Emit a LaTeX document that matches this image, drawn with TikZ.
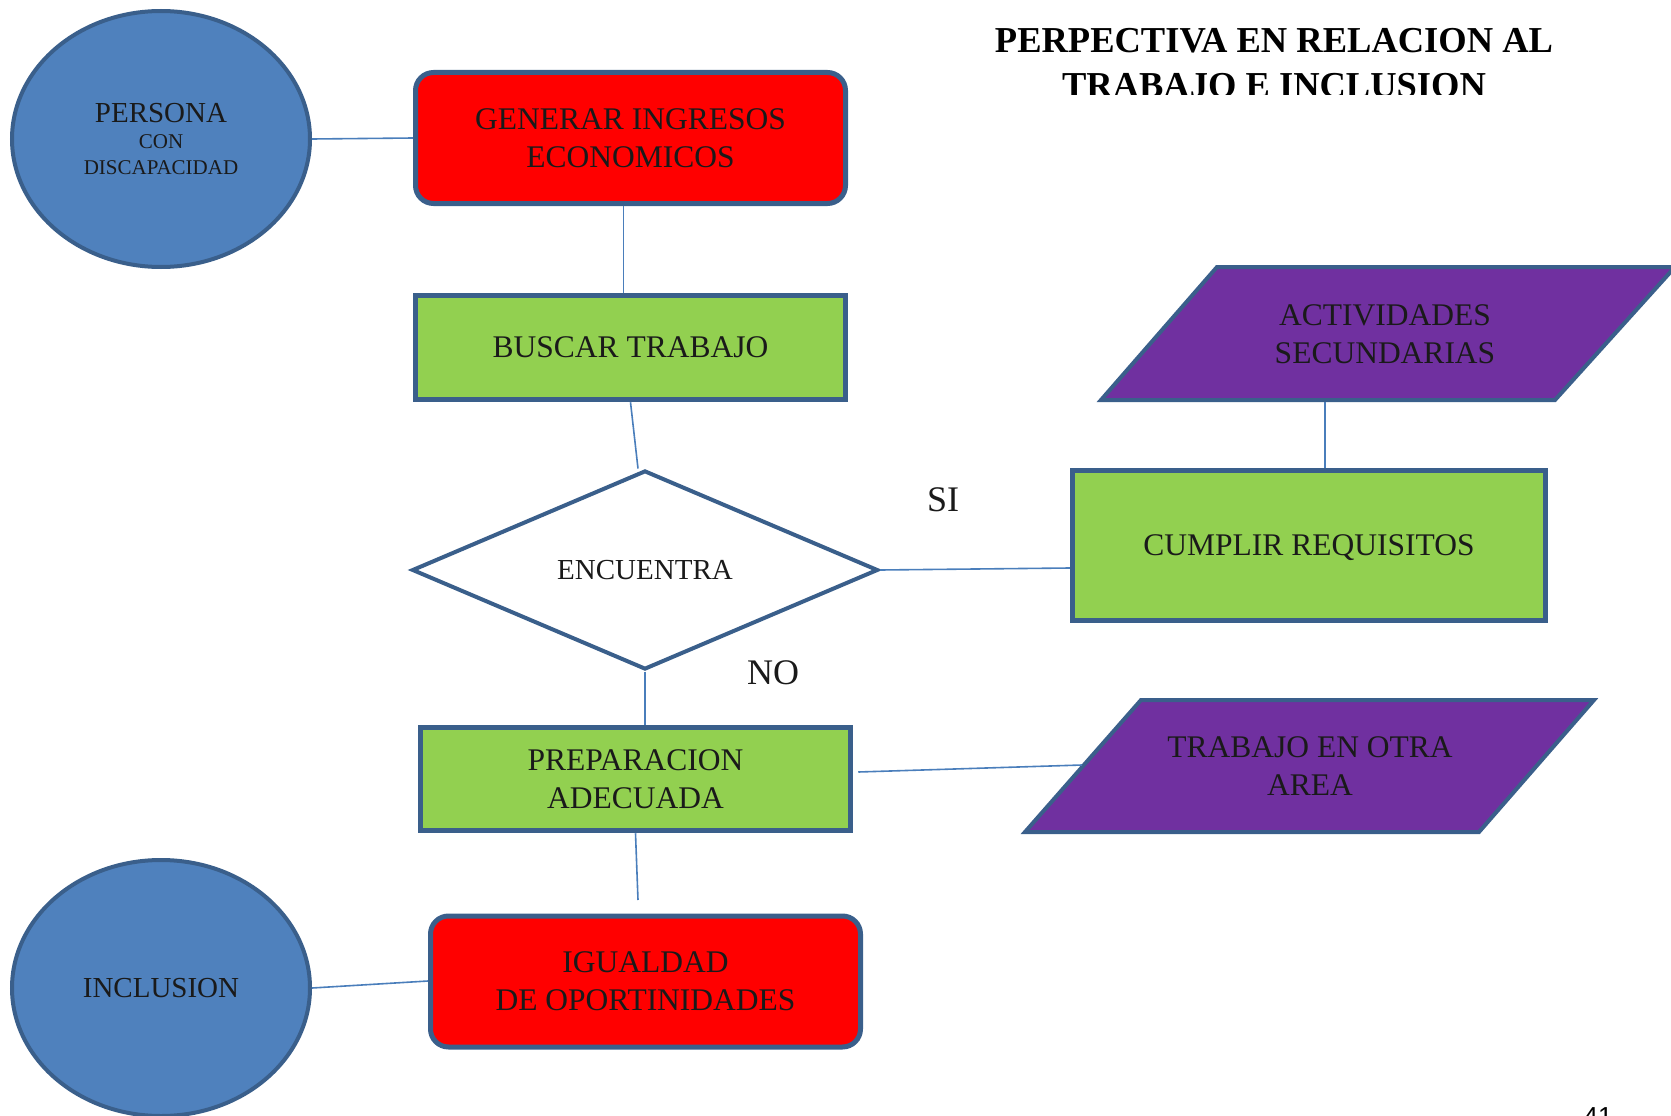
\documentclass[tikz,border=0pt]{standalone}
\usepackage{fontspec}
\setmainfont{Liberation Serif}
\newfontfamily\pagefont{Liberation Sans}
\usetikzlibrary{shapes.geometric}
\definecolor{bdr}{HTML}{3A5F8B}
\definecolor{lnk}{HTML}{4A7EBB}
\definecolor{ellfill}{HTML}{4F81BD}
\definecolor{redf}{HTML}{FF0000}
\definecolor{greenf}{HTML}{92D050}
\definecolor{purplef}{HTML}{7030A0}
\definecolor{txt}{HTML}{1A1A1A}
\begin{document}
\begin{tikzpicture}[x=1pt,y=-1pt,
  ell/.style={ellipse, draw=bdr, line width=4pt, fill=ellfill, minimum width=298pt,
    minimum height=256pt, inner sep=0pt, text=txt, align=center},
  redbox/.style={rectangle, rounded corners=18pt, draw=bdr, line width=5pt, fill=redf,
    minimum width=430pt, minimum height=131pt, inner sep=0pt, text=txt, align=center,
    text depth=0pt, font=\fontsize{31.5}{38}\selectfont},
  greenbox/.style={rectangle, draw=bdr, line width=5pt, fill=greenf, inner sep=0pt,
    text=txt, align=center, text depth=0pt, font=\fontsize{31.5}{38}\selectfont},
  para/.style={draw=bdr, line width=4pt, fill=purplef, line join=miter},
  ptext/.style={text=txt, align=center, text depth=0pt, font=\fontsize{31.5}{38}\selectfont},
  decision/.style={diamond, draw=bdr, line width=4pt, fill=white, minimum width=466pt,
    minimum height=199pt, inner sep=0pt, text=txt, text depth=0pt, font=\fontsize{29}{34}\selectfont},
  link/.style={draw=lnk, line width=1.6pt},
  lbl/.style={text=txt, font=\fontsize{36}{40}\selectfont, inner sep=0pt},
  ttl/.style={font=\fontsize{36.5}{44}\selectfont\bfseries, align=center, inner sep=0pt, anchor=base}
]
\useasboundingbox (0,0) rectangle (1671,1116);

% title (clipped at bottom)
\begin{scope}
  \clip (900,0) rectangle (1671,94);
  \node[ttl] (title) at (1274,97) {PERPECTIVA EN RELACION AL\\TRABAJO E INCLUSION};
\end{scope}

% page number (clipped)
\begin{scope}
  \clip (1500,1080) rectangle (1671,1116);
  \node[font=\pagefont\fontsize{26}{30}\selectfont, anchor=north, inner sep=0pt] (pnum) at (1598,1107) {41};
\end{scope}

% nodes
\node[ell, font=\fontsize{21}{25.5}\selectfont] (persona) at (161,139) {{\fontsize{29}{30}\selectfont PERSONA}\\[1pt]CON\\DISCAPACIDAD};
\node[redbox] (generar) at (630.5,138) {GENERAR INGRESOS\\ECONOMICOS};
\node[greenbox, minimum width=430.5pt, minimum height=104.5pt] (buscar) at (630.5,347.5) {BUSCAR TRABAJO};
\node[decision] (enc) at (645,570) {ENCUENTRA};
\node[greenbox, minimum width=473.5pt, minimum height=150.5pt] (cump) at (1309,545.5) {CUMPLIR REQUISITOS};
\node[greenbox, minimum width=430.5pt, minimum height=103.5pt] (prep) at (635.5,779) {PREPARACION\\ADECUADA};
\node[redbox] (igual) at (645.5,981.5) {IGUALDAD\\DE OPORTINIDADES};
\node[ell, text depth=0pt, font=\fontsize{29}{30}\selectfont] (incl) at (161,988) {INCLUSION};

% parallelograms
\coordinate (a1) at (1217,267);
\coordinate (a2) at (1675,267);
\coordinate (a3) at (1555,400);
\coordinate (a4) at (1101,400);
\draw[para] (a1) -- (a2) -- (a3) -- (a4) -- cycle;
\node[ptext] (act) at (1385,334) {ACTIVIDADES\\SECUNDARIAS};
\coordinate (actb) at (1325,402);

\coordinate (t1) at (1141,700);
\coordinate (t2) at (1594,700);
\coordinate (t3) at (1479,832);
\coordinate (t4) at (1025,832);
\draw[para] (t1) -- (t2) -- (t3) -- (t4) -- cycle;
\node[ptext] (otra) at (1310,766) {TRABAJO EN OTRA\\AREA};
\coordinate (otraL) at (1082,765);

% labels
\node[lbl] (si) at (943,500) {SI};
\node[lbl] (no) at (773,673) {NO};

% connectors
\coordinate (gap) at (638,900);
\draw[link] (persona.east) -- (generar.west);
\draw[link] ([xshift=-7pt]generar.south) -- ([xshift=-7pt]buscar.north);
\draw[link] (buscar.south) -- ([xshift=-7pt]enc.north);
\draw[link] (enc.east) -- ([yshift=-22.5pt]cump.west);
\draw[link] (actb) -- (actb |- cump.north);
\draw[link] (enc.south) -- (enc.south |- prep.north);
\draw[link] ([xshift=5pt,yshift=7pt]prep.east) -- (otraL);
\draw[link] (prep.south) -- (gap);
\draw[link] (incl.east) -- ([yshift=0.5pt]igual.west);
\end{tikzpicture}
\end{document}
